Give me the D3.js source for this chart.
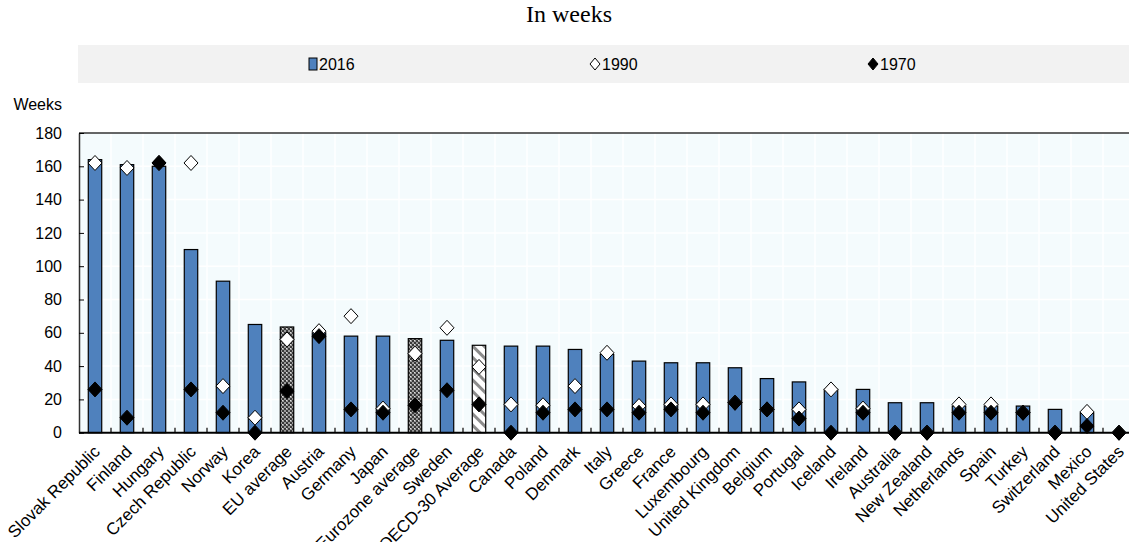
<!DOCTYPE html>
<html>
<head>
<meta charset="utf-8">
<script src="https://cdn.jsdelivr.net/npm/d3@7"></script>
<style>
  body { margin: 0; background: #fff; }
  svg { display: block; }
</style>
</head>
<body>
<svg id="chart"></svg>
<script>
// categories on the x axis
const countries = ["Slovak Republic", "Finland", "Hungary", "Czech Republic", "Norway", "Korea",
    "EU average", "Austria", "Germany", "Japan", "Eurozone average", "Sweden", "OECD-30 Average",
    "Canada", "Poland", "Denmark", "Italy", "Greece", "France", "Luxembourg", "United Kingdom",
    "Belgium", "Portugal", "Iceland", "Ireland", "Australia", "New Zealand", "Netherlands",
    "Spain", "Turkey", "Switzerland", "Mexico", "United States"];

// total paid leave available to mothers, in weeks
const weeks2016 = [164, 161, 160, 110, 91, 65, 63.5, 60, 58, 58, 56.5, 55.5, 52.5, 52, 52, 50,
    47, 43, 42, 42, 39, 32.5, 30.5, 26, 26, 18, 18, 16, 16, 16, 14, 12, 0];
const weeks1990 = [162, 159, 162, 162, 28, 9, 56, 61, 70, 14.5, 47.5, 63, 39.5, 17, 16.5, 28,
    48, 16, 17, 17, 18, 14, 14, 26, 14.5, 0, 0, 17, 17, 12, 0, 12.5, 0];
const weeks1970 = [26, 9, 162, 26, 12, 0, 25, 58, 14, 12, 16.5, 25.5, 17, 0, 12, 14,
    14, 12, 14, 12, 18, 14, 8.5, 0, 12, 0, 0, 12, 12, 12, 0, 4, 0];

// y axis ticks
const yTicks = [0, 20, 40, 60, 80, 100, 120, 140, 160, 180];

// aggregates get a pattern instead of the plain blue
const dottedAggregates = ["EU average", "Eurozone average"];
const hatchedAggregates = ["OECD-30 Average"];

const width = 1129;
const height = 542;
const font = "'Liberation Sans', Arial, sans-serif";

const svg = d3.select("#chart")
    .attr("width", width)
    .attr("height", height);

// plot area (the right edge runs past the picture, as in the original)
const plot = {left: 79, top: 133, bottom: 432.7};
plot.right = plot.left + countries.length * 32;

const x = d3.scaleBand()
    .domain(countries)
    .range([plot.left, plot.right])
    .paddingInner(0.58)
    .paddingOuter(0.29);

const y = d3.scaleLinear()
    .domain([0, 180])
    .range([plot.bottom, plot.top]);

const step = x.step();
const cx = (name) => x(name) + x.bandwidth() / 2;

// patterns
const defs = svg.append("defs");

const dots = defs.append("pattern")
    .attr("id", "dots")
    .attr("width", 4)
    .attr("height", 4)
    .attr("patternUnits", "userSpaceOnUse");
dots.append("rect").attr("width", 4).attr("height", 4).attr("fill", "#9a9a9a");
dots.append("rect").attr("width", 2).attr("height", 2).attr("fill", "#3a3a3a");
dots.append("rect").attr("x", 2).attr("y", 2).attr("width", 2).attr("height", 2).attr("fill", "#3a3a3a");
dots.append("rect").attr("x", 2).attr("y", 0).attr("width", 1).attr("height", 1).attr("fill", "#e0e0e0");

const hatch = defs.append("pattern")
    .attr("id", "hatch")
    .attr("width", 8)
    .attr("height", 8)
    .attr("patternUnits", "userSpaceOnUse")
    .attr("patternTransform", "rotate(-45)");
hatch.append("rect").attr("width", 8).attr("height", 8).attr("fill", "#ffffff");
hatch.append("rect").attr("width", 3).attr("height", 8).attr("fill", "#8c8c8c");

// title
svg.append("text")
    .attr("x", 569)
    .attr("y", 22)
    .attr("text-anchor", "middle")
    .style("font-family", "'Liberation Serif', 'Times New Roman', serif")
    .style("font-size", "24px")
    .text("In weeks");

// legend band
const legend = svg.append("g");
legend.append("rect")
    .attr("x", 78)
    .attr("y", 45)
    .attr("width", width - 78)
    .attr("height", 38)
    .attr("fill", "#f2f2f2");

// diamond path, centred on 0,0
const diamond = (w, h) => `M0,${-h}L${w},0L0,${h}L${-w},0Z`;

legend.append("rect")
    .attr("x", 309)
    .attr("y", 58)
    .attr("width", 8)
    .attr("height", 12)
    .attr("fill", "#4f81bd")
    .attr("stroke", "#000")
    .attr("stroke-width", 1);
legend.append("path")
    .attr("d", diamond(5, 6))
    .attr("transform", "translate(595,64)")
    .attr("fill", "#fff")
    .attr("stroke", "#000");
legend.append("path")
    .attr("d", diamond(5, 6))
    .attr("transform", "translate(873,64)")
    .attr("fill", "#000")
    .attr("stroke", "#000");

const legendItems = [["2016", 319], ["1990", 602], ["1970", 880]];
legend.selectAll("text.legend")
    .data(legendItems)
    .enter()
    .append("text")
    .attr("class", "legend")
    .attr("x", (d) => d[1])
    .attr("y", 70)
    .style("font-family", font)
    .style("font-size", "16px")
    .text((d) => d[0]);

// plot background and faint white grid
svg.append("rect")
    .attr("x", plot.left)
    .attr("y", plot.top)
    .attr("width", plot.right - plot.left)
    .attr("height", plot.bottom - plot.top)
    .attr("fill", "#f4fbfd");

const grid = svg.append("g");
grid.selectAll("line.h")
    .data(yTicks.slice(1, -1))
    .enter()
    .append("line")
    .attr("x1", plot.left)
    .attr("x2", plot.right)
    .attr("y1", (d) => y(d))
    .attr("y2", (d) => y(d))
    .attr("stroke", "#ffffff")
    .attr("stroke-width", 1.5);
grid.selectAll("line.v")
    .data(countries.slice(1))
    .enter()
    .append("line")
    .attr("x1", (d) => x(d) - step * 0.29)
    .attr("x2", (d) => x(d) - step * 0.29)
    .attr("y1", plot.top)
    .attr("y2", plot.bottom)
    .attr("stroke", "#ffffff")
    .attr("stroke-width", 1.5);

// bars for 2016
const barFill = (name) => {
    if (dottedAggregates.includes(name)) return "url(#dots)";
    if (hatchedAggregates.includes(name)) return "url(#hatch)";
    return "#4f81bd";
};

svg.append("g")
    .selectAll("rect")
    .data(countries)
    .enter()
    .append("rect")
    .attr("x", (d) => x(d))
    .attr("y", (d, i) => y(weeks2016[i]))
    .attr("width", x.bandwidth())
    .attr("height", (d, i) => y(0) - y(weeks2016[i]))
    .attr("fill", (d) => barFill(d))
    .attr("stroke", "#000")
    .attr("stroke-width", 1.2);

// frame: top border and left axis
svg.append("line")
    .attr("x1", plot.left).attr("x2", plot.right)
    .attr("y1", plot.top).attr("y2", plot.top)
    .attr("stroke", "#333").attr("stroke-width", 1.5);

const yAxis = d3.axisLeft(y)
    .tickValues(yTicks)
    .tickSizeInner(-5)
    .tickSizeOuter(0)
    .tickPadding(17);

const yAxisG = svg.append("g")
    .attr("transform", `translate(${plot.left},0)`)
    .call(yAxis);
yAxisG.select(".domain").attr("stroke", "#333").attr("stroke-width", 1.5);
yAxisG.selectAll(".tick line").attr("stroke", "#000");
yAxisG.selectAll(".tick text")
    .style("font-family", font)
    .style("font-size", "16px")
    .attr("fill", "#000");

svg.append("text")
    .attr("x", 62)
    .attr("y", 110)
    .attr("text-anchor", "end")
    .style("font-family", font)
    .style("font-size", "16px")
    .text("Weeks");

// x axis with upward ticks between categories
const xAxisG = svg.append("g");
xAxisG.append("line")
    .attr("x1", plot.left).attr("x2", plot.right)
    .attr("y1", plot.bottom).attr("y2", plot.bottom)
    .attr("stroke", "#000").attr("stroke-width", 2);
xAxisG.selectAll("line.tick")
    .data(countries.slice(1))
    .enter()
    .append("line")
    .attr("x1", (d) => x(d) - step * 0.29)
    .attr("x2", (d) => x(d) - step * 0.29)
    .attr("y1", plot.bottom)
    .attr("y2", plot.bottom - 5)
    .attr("stroke", "#000")
    .attr("stroke-width", 1.2);

xAxisG.selectAll("text")
    .data(countries)
    .enter()
    .append("text")
    .attr("transform", (d) => `translate(${cx(d) + 6},${plot.bottom + 20}) rotate(-45)`)
    .attr("text-anchor", "end")
    .style("font-family", font)
    .style("font-size", "17px")
    .text((d) => d);

// diamonds: 1990 white, 1970 black on top
svg.append("g")
    .selectAll("path")
    .data(countries)
    .enter()
    .append("path")
    .attr("d", diamond(7, 7.5))
    .attr("transform", (d, i) => `translate(${cx(d)},${y(weeks1990[i])})`)
    .attr("fill", "#fff")
    .attr("stroke", "#000")
    .attr("stroke-width", 1);

svg.append("g")
    .selectAll("path")
    .data(countries)
    .enter()
    .append("path")
    .attr("d", diamond(7, 7.5))
    .attr("transform", (d, i) => `translate(${cx(d)},${y(weeks1970[i])})`)
    .attr("fill", "#000")
    .attr("stroke", "#000")
    .attr("stroke-width", 1);
</script>
</body>
</html>
